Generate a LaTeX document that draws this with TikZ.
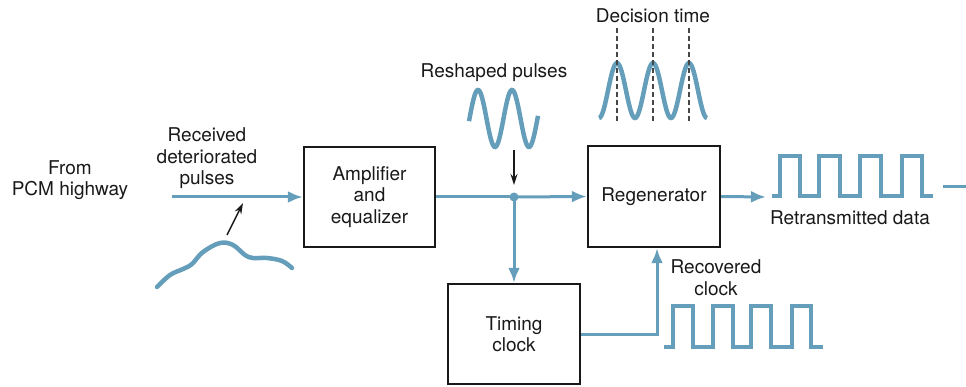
\documentclass[tikz,border=0pt]{standalone}
\usepackage{fontspec}
\setmainfont{TeX Gyre Heros}
\usetikzlibrary{arrows.meta}
\definecolor{sigblue}{RGB}{100,158,186}
\definecolor{inkdark}{RGB}{25,25,25}
\begin{document}
\begin{tikzpicture}[x=1pt,y=-1pt,
  lbl/.style={font=\fontsize{19}{21.5}\selectfont, text=inkdark, align=center, inner sep=0pt},
  blockbox/.style={draw=inkdark, line width=2.4pt, minimum width=131pt, minimum height=100pt, inner sep=0pt, lbl},
  sig/.style={draw=sigblue, line width=3pt},
  sigarrow/.style={sig, -{Latex[length=15pt,width=12pt]}},
  wave/.style={draw=sigblue, line width=4.5pt, line join=miter},
  blkarrow/.style={draw=inkdark, line width=1.5pt, -{Stealth[length=11pt,width=7pt]}},
  dashmark/.style={draw=inkdark!80, line width=1.3pt, dash pattern=on 5pt off 3pt}]
\useasboundingbox (0,0) rectangle (966,387);

% blocks
\node[blockbox] (amp) at (369.5,197) {Amplifier\\and\\equalizer};
\node[blockbox, minimum width=132pt, minimum height=101pt] (regen) at (654,196.5) {Regenerator};
\node[blockbox, minimum width=132pt] (timing) at (514,334) {Timing\\clock};

% labels
\node[lbl] (from) at (70,180) {From\\PCM highway};
\node[lbl] (recv) at (207,158.5) {Received\\deteriorated\\pulses};
\node[lbl] (resh) at (494,73) {Reshaped pulses};
\node[lbl] (dect) at (653,16) {Decision time};
\node[lbl] (retx) at (850,218) {Retransmitted data};
\node[lbl] (recl) at (716,277.5) {Recovered\\clock};

% coordinates
\coordinate (in) at (172,197);
\coordinate (junc) at (514,197);
\coordinate (out) at (766,197);
\coordinate (tailA) at (943,187);
\coordinate (tailB) at (966,187);
\coordinate (rsA) at (514,150);
\coordinate (rsB) at (514,185);
\coordinate (dtA) at (227,235);
\coordinate (dtB) at (243,203);

% connectors
\draw[sigarrow] (in) -- (amp.west);
\draw[sig] (amp.east) -- (junc);
\draw[sigarrow] (junc) -- (regen.west);
\draw[sigarrow] (junc) -- (timing.north);
\draw[sigarrow] (timing.east) -| ([xshift=3pt]regen.south);
\draw[sigarrow] (regen.east) -- (out);
\draw[sig] (tailA) -- (tailB);
\fill[sigblue] (junc) circle (4.5pt);

% black pointers
\draw[blkarrow] (rsA) -- (rsB);
\draw[blkarrow] (dtA) -- (dtB);

% deteriorated pulse
\draw[wave, line cap=round] plot[smooth, tension=0.6] coordinates {
  (157,287) (170,275) (183,269) (192,264) (203,252) (220,243) (233,245)
  (245,255) (253,258) (267,258) (282,261) (292,268)};

% reshaped pulses
\draw[wave] plot[domain=469:538, samples=80, smooth] (\x,{118.5-28.5*cos((\x-478)/34*360)});

% decision time pulses
\draw[wave] plot[domain=599:707, samples=100, smooth] (\x,{90.5-27.5*cos((\x-617)/36*360)});
\foreach \xx in {617,653,689} \draw[dashmark] (\xx,28) -- (\xx,121);

% retransmitted data
\draw[wave] (772,196) -- (780,196) -- (780,156) -- (800,156) -- (800,196) -- (819,196) -- (819,156)
  -- (840,156) -- (840,196) -- (860,196) -- (860,156) -- (881,156) -- (881,196) -- (902,196)
  -- (902,156) -- (922,156) -- (922,196) -- (933,196);

% recovered clock
\draw[wave] (664,347) -- (673,347) -- (673,306) -- (693,306) -- (693,347) -- (713,347) -- (713,306)
  -- (733,306) -- (733,347) -- (751,347) -- (751,306) -- (771,306) -- (771,347) -- (792,347)
  -- (792,306) -- (811,306) -- (811,347) -- (823,347);
\end{tikzpicture}
\end{document}
